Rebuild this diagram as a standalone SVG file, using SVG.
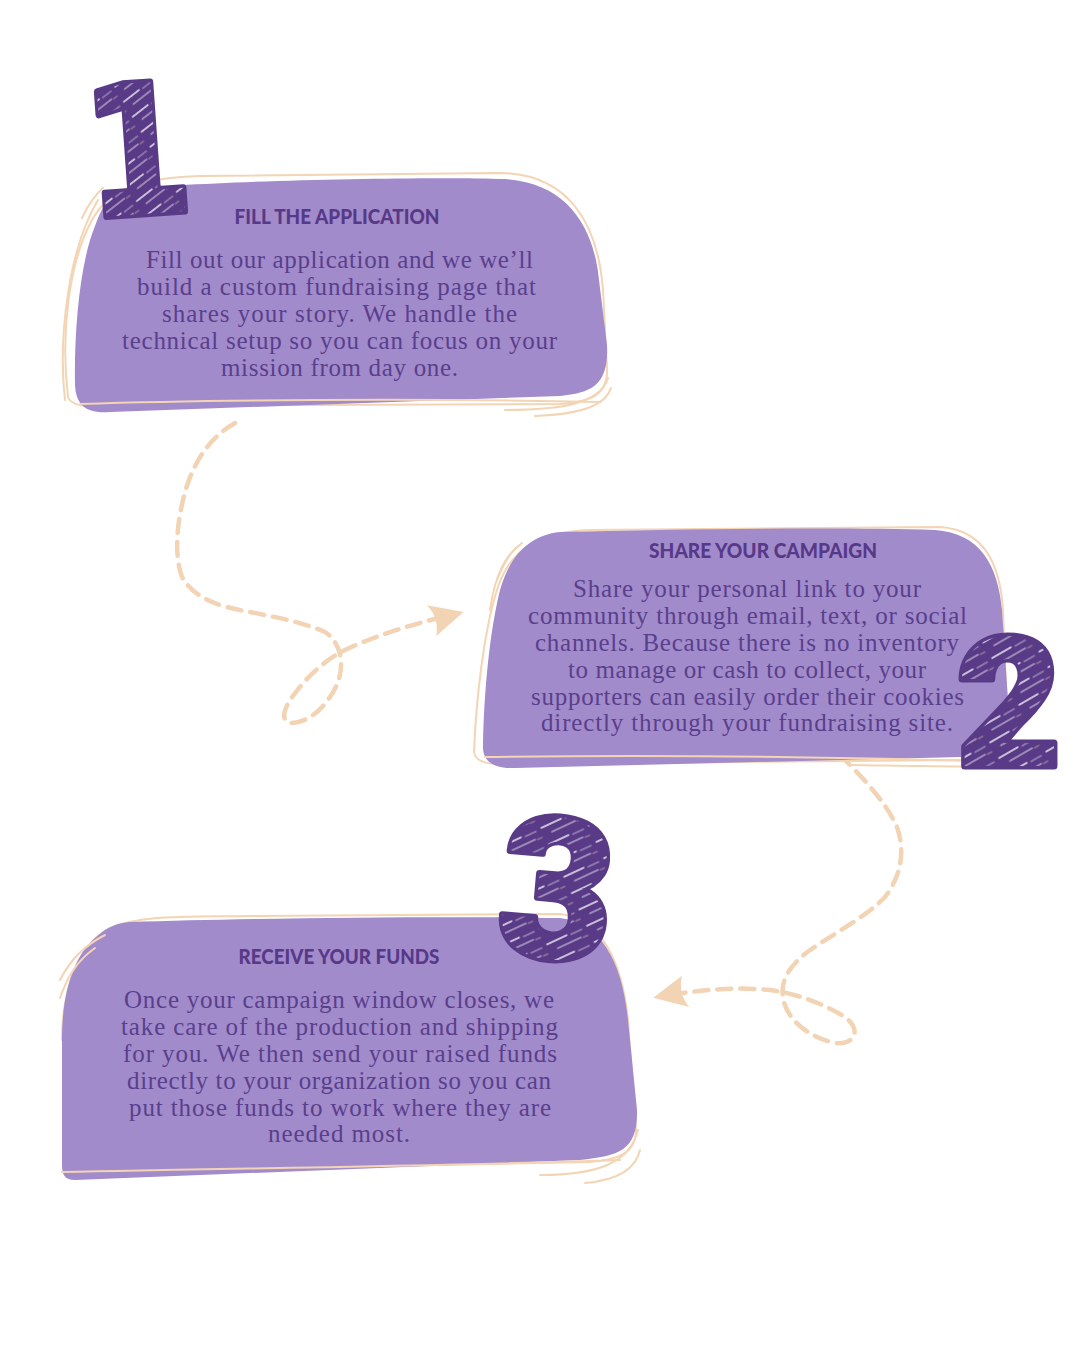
<svg xmlns="http://www.w3.org/2000/svg" width="1080" height="1350" viewBox="0 0 1080 1350">
<defs>
<pattern id="hatch" width="44" height="18" patternUnits="userSpaceOnUse" patternTransform="rotate(-30)">
<rect width="44" height="18" fill="#583a87"/>
<line x1="2" y1="4" x2="24" y2="4" stroke="#ffffff" stroke-width="1.3" stroke-opacity="0.9" stroke-linecap="round"/>
<line x1="28" y1="5" x2="40" y2="5" stroke="#ffffff" stroke-width="1" stroke-opacity="0.6" stroke-linecap="round"/>
<line x1="10" y1="12" x2="36" y2="12" stroke="#ffffff" stroke-width="1.2" stroke-opacity="0.8" stroke-linecap="round"/>
<line x1="38" y1="13" x2="43" y2="13" stroke="#f3d4b4" stroke-width="1" stroke-opacity="0.6" stroke-linecap="round"/>
</pattern>
<marker id="arr" viewBox="0 0 40 40" refX="20" refY="20" markerWidth="40" markerHeight="40" markerUnits="userSpaceOnUse" orient="auto">
<path d="M37,20 L3,5 Q12,20 5,37 Z" fill="#f2d3b4"/>
</marker>
<style>
.blob{fill:#a18bcb}
.sk{fill:none;stroke:#f3d4b4;stroke-width:2;stroke-linecap:round}
.ttl{font-family:Lato,"Liberation Sans",sans-serif;font-weight:900;font-size:20px;fill:#573988;text-anchor:middle}
.body{font-family:"Liberation Serif","DejaVu Serif",serif;font-size:25px;fill:#5a3f8c;text-anchor:middle}
.num{fill:url(#hatch);stroke:#583a87;stroke-width:7;stroke-linejoin:round;paint-order:stroke;text-anchor:middle}
.n1{font-family:"DejaVu Sans",sans-serif;font-weight:bold}
.n23{font-family:Roboto,"DejaVu Sans",sans-serif;font-weight:900}
.con{fill:none;stroke:#f2d3b4;stroke-width:4.5;stroke-dasharray:14 9;stroke-linecap:round}
</style>
</defs>
<rect width="1080" height="1350" fill="#ffffff"/>

<g id="connectors">
<path class="con" d="M235,423 C205,440 190,470 183,500 C177,525 174,555 182,577 C195,600 222,607 250,612 C280,618 305,623 325,632 C340,642 345,662 338,682 C330,702 312,722 292,723 C278,722 285,705 296,692 C308,676 325,660 345,650 C370,638 405,626 447,616" marker-end="url(#arr)"/>
<path class="con" d="M840,755 C860,775 885,800 897,827 C905,850 902,875 885,897 C868,915 840,930 810,950 C790,965 780,980 783,998 C787,1020 808,1037 835,1043 C855,1045 862,1030 845,1017 C825,1005 800,994 770,990 C740,987 705,989 670,995" marker-end="url(#arr)"/>
</g>

<g id="step1">
<path class="sk" d="M68,397 C60,330 70,260 92,220 C110,188 140,178 200,176 L500,173 C570,174 598,225 603,290 L607,370 C608,395 590,402 560,404 L90,406 C76,406 70,402 68,397 Z"/>
<path class="blob" d="M120,190 C200,181 420,176 505,179 C568,183 594,228 599,280 L607,345 C609,385 592,393 560,396 L110,412 C86,414 76,405 75,385 C74,330 80,262 95,226 C103,205 110,192 120,190 Z"/>
<path class="sk" d="M80,404 C200,400 420,398 600,402"/>
<path class="sk" d="M505,410 C560,410 600,404 608,378"/>
<path class="sk" d="M535,416 C585,414 606,404 611,388"/>
<path class="sk" d="M65,400 C58,340 68,250 98,200"/>
<path class="sk" d="M82,218 C88,205 95,195 103,188"/>
<text class="num n1" x="0" y="0" font-size="180" transform="translate(142 214) rotate(-4) scale(0.86 1)">1</text>
<text class="ttl" x="337" y="224" textLength="205" lengthAdjust="spacingAndGlyphs">FILL THE APPLICATION</text>
<text class="body" x="339.5" y="268" textLength="387">Fill out our application and we we’ll</text>
<text class="body" x="336.5" y="295" textLength="399">build a custom fundraising page that</text>
<text class="body" x="339.5" y="322" textLength="355">shares your story. We handle the</text>
<text class="body" x="339.5" y="349" textLength="435">technical setup so you can focus on your</text>
<text class="body" x="339.5" y="376" textLength="237">mission from day one.</text>
</g>

<g id="step2">
<path class="sk" d="M474,752 C476,700 484,630 497,590 C510,548 540,532 590,530 L940,527 C985,530 1000,565 1003,610 L1008,740 C1008,756 990,760 960,760 L500,764 C485,764 475,760 474,752 Z"/>
<path class="blob" d="M560,532 C680,529 840,527 935,530 C980,533 998,565 1002,610 L1008,700 C1009,745 990,755 960,757 L515,768 C492,769 482,760 483,745 C484,690 490,630 500,590 C510,555 530,535 560,532 Z"/>
<path class="sk" d="M485,757 C650,755 850,757 1010,762"/>
<path class="sk" d="M490,610 C495,575 505,555 522,543"/>
<path class="sk" d="M497,580 C505,560 512,550 520,545"/>
<path class="sk" d="M850,765 C920,766 980,768 1012,764"/>
<text class="num n23" x="1009" y="766" font-size="180">2</text>
<text class="ttl" x="763" y="558" textLength="228" lengthAdjust="spacingAndGlyphs">SHARE YOUR CAMPAIGN</text>
<text class="body" x="747" y="597" textLength="348">Share your personal link to your</text>
<text class="body" x="747.5" y="624" textLength="439">community through email, text, or social</text>
<text class="body" x="747" y="651" textLength="424">channels. Because there is no inventory</text>
<text class="body" x="747" y="678" textLength="358">to manage or cash to collect, your</text>
<text class="body" x="747.5" y="705" textLength="433">supporters can easily order their cookies</text>
<text class="body" x="747" y="731" textLength="412">directly through your fundraising site.</text>
</g>

<g id="step3">
<path class="sk" d="M62,1040 C62,990 78,945 110,928 C140,915 180,917 250,916 L560,914 C600,918 622,960 628,1020 L636,1130 C636,1155 615,1160 590,1162 L70,1172"/>
<path class="blob" d="M130,922 C250,918 450,916 560,918 C600,922 622,960 628,1020 L637,1110 C638,1150 620,1156 580,1160 L75,1180 C65,1180 62,1175 62,1165 L62,1040 C62,990 75,955 95,938 C108,926 118,923 130,922 Z"/>
<path class="sk" d="M62,1172 C250,1168 450,1166 620,1160"/>
<path class="sk" d="M540,1175 C600,1175 630,1162 638,1130"/>
<path class="sk" d="M585,1183 C620,1180 636,1168 640,1150"/>
<path class="sk" d="M60,980 C70,960 85,945 105,935"/>
<path class="sk" d="M60,998 C68,975 78,960 95,948"/>
<text class="num n23" x="0" y="0" font-size="196" transform="translate(551 958) rotate(5)">3</text>
<text class="ttl" x="339" y="964" textLength="201" lengthAdjust="spacingAndGlyphs">RECEIVE YOUR FUNDS</text>
<text class="body" x="339" y="1008" textLength="430">Once your campaign window closes, we</text>
<text class="body" x="339.5" y="1035" textLength="437">take care of the production and shipping</text>
<text class="body" x="340" y="1062" textLength="434">for you. We then send your raised funds</text>
<text class="body" x="339" y="1089" textLength="424">directly to your organization so you can</text>
<text class="body" x="340" y="1116" textLength="422">put those funds to work where they are</text>
<text class="body" x="339" y="1142" textLength="142">needed most.</text>
</g>
</svg>
